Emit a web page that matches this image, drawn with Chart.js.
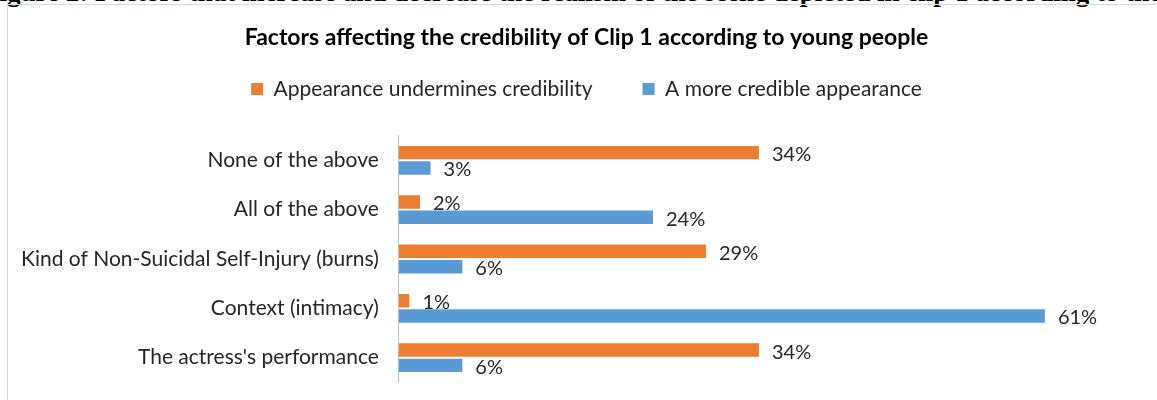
<!DOCTYPE html>
<html>
<head>
<meta charset="utf-8">
<script src="https://cdn.jsdelivr.net/npm/chart.js@4"></script>
<style>
  body { margin: 0; background: #fff; }
  #wrap { position: relative; width: 1157px; height: 400px; overflow: hidden; }
  #caption {
    position: absolute; left: -17px; top: -23px; white-space: nowrap; line-height: 27px;
    font: bold 27px "Liberation Serif", "DejaVu Serif", serif; color: #000;
  }
  #box {
    position: absolute; left: 7px; top: 4px; width: 1200px; height: 420px;
    border: 1px solid #d9d9d9; box-sizing: border-box; background: transparent;
  }
</style>
</head>
<body>
<div id="wrap">
  <div id="caption">Figure 2: Factors that increase and decrease the realism of the scene depicted in clip 1 according to the young people</div>
  <div id="box"><canvas id="grafico"></canvas></div>
</div>
<script>
const categorias = [
  'None of the above',
  'All of the above',
  'Kind of Non-Suicidal Self-Injury (burns)',
  'Context (intimacy)',
  "The actress's performance"
];
const minaCredibilidade = [34, 2, 29, 1, 34];
const maisCredivel = [3, 24, 6, 61, 6];

const fonte = 'Lato, "Open Sans", sans-serif';

// rotulos com o valor ao lado de cada barra
const rotulos = {
  id: 'rotulos',
  afterDatasetsDraw(chart) {
    const ctx = chart.ctx;
    ctx.save();
    ctx.font = '20px ' + fonte;
    ctx.fillStyle = '#262626';
    ctx.textBaseline = 'middle';
    chart.data.datasets.forEach((ds, i) => {
      chart.getDatasetMeta(i).data.forEach((barra, j) => {
        ctx.fillText(ds.data[j] + '%', barra.x + 13, barra.y + 2);
      });
    });
    ctx.restore();
  }
};

// espaco extra abaixo da legenda
const espacoLegenda = {
  id: 'espacoLegenda',
  beforeInit(chart) {
    const fitOriginal = chart.legend.fit;
    chart.legend.fit = function () {
      fitOriginal.bind(chart.legend)();
      this.height += 26;
    };
  }
};

const canvas = document.getElementById('grafico');
canvas.width = 1190;
canvas.height = 410;

new Chart(canvas, {
  type: 'bar',
  data: {
    labels: categorias,
    datasets: [{
      label: 'Appearance undermines credibility',
      data: minaCredibilidade,
      backgroundColor: '#ed7d31',
      categoryPercentage: 0.62,
      barPercentage: 0.88
    }, {
      label: 'A more credible appearance',
      data: maisCredivel,
      backgroundColor: '#5b9bd5',
      categoryPercentage: 0.62,
      barPercentage: 0.88
    }]
  },
  options: {
    indexAxis: 'y',
    responsive: false,
    animation: false,
    layout: { padding: { left: -7, right: 26, top: 0, bottom: 8 } },
    plugins: {
      title: {
        display: true,
        text: 'Factors affecting the credibility of Clip 1 according to young people',
        color: '#000',
        font: { family: fonte, size: 23, weight: 'bold' },
        padding: { top: 19, bottom: -23 }
      },
      legend: {
        labels: {
          color: '#262626',
          font: { family: fonte, size: 21 },
          boxWidth: 12,
          boxHeight: 12,
          padding: 50
        }
      },
      tooltip: { enabled: false }
    },
    scales: {
      x: {
        display: false,
        min: 0,
        max: 73
      },
      y: {
        grid: { display: false, drawTicks: false },
        border: { color: '#bfbfbf' },
        ticks: {
          color: '#262626',
          font: { family: fonte, size: 21 },
          padding: 20
        }
      }
    }
  },
  plugins: [rotulos, espacoLegenda]
});
</script>
</body>
</html>
